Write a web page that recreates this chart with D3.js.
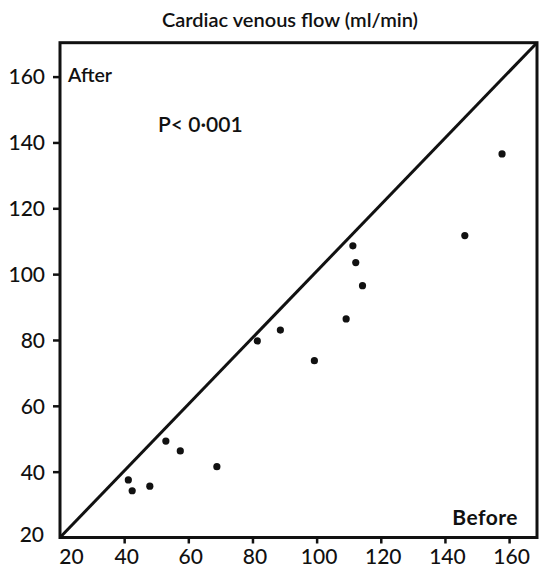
<!DOCTYPE html>
<html>
<head>
<meta charset="utf-8">
<script src="https://cdn.jsdelivr.net/npm/d3@7/dist/d3.min.js"></script>
<style>
  html, body { margin: 0; padding: 0; background: #fff; }
  text { font-family: Lato, "DejaVu Sans", sans-serif; fill: #111; }
</style>
</head>
<body>
<svg id="chart" width="539" height="568"></svg>
<script>
// Data
const before = [41.3, 42.5, 48.0, 53.0, 57.5, 68.9, 81.5, 88.7, 99.3, 109.2, 111.3, 112.2, 114.3, 146.2, 157.8];
const after  = [37.5, 34.2, 35.6, 49.3, 46.3, 41.5, 79.7, 83.0, 73.7, 86.4, 108.6, 103.5, 96.5, 111.7, 136.5];
const xTicks = [20, 40, 60, 80, 100, 120, 140, 160];
const yTicks = [20, 40, 60, 80, 100, 120, 140, 160];
const xDomain = [20, 168.7];
const yDomain = [20, 170.3];
const title = "Cardiac venous flow (ml/min)";
const pText = "P< 0·001";

const svg = d3.select("#chart");
const m = { left: 60, right: 2, top: 42.7, bottom: 30.5 };
const W = 539, H = 568;

const x = d3.scaleLinear().domain(xDomain).range([m.left, W - m.right]);
const y = d3.scaleLinear().domain(yDomain).range([H - m.bottom, m.top]);

// frame
svg.append("rect")
  .attr("x", x(xDomain[0])).attr("y", y(yDomain[1]))
  .attr("width", x(xDomain[1]) - x(xDomain[0]))
  .attr("height", y(yDomain[0]) - y(yDomain[1]))
  .attr("fill", "none").attr("stroke", "#111").attr("stroke-width", 3);

// identity line
svg.append("line")
  .attr("x1", x(xDomain[0])).attr("y1", y(yDomain[0]))
  .attr("x2", x(xDomain[1])).attr("y2", y(yDomain[1]))
  .attr("stroke", "#111").attr("stroke-width", 3);

const tickFont = "Lato, 'DejaVu Sans', sans-serif";

// y axis
const yAxis = svg.append("g")
  .attr("transform", `translate(${x(xDomain[0])},0)`)
  .call(d3.axisLeft(y).tickValues(yTicks).tickSize(7).tickPadding(3));
yAxis.select(".domain").remove();
yAxis.selectAll(".tick line").attr("stroke", "#111").attr("stroke-width", 2.5);
yAxis.selectAll(".tick line").filter(d => d === 20).remove();
yAxis.selectAll(".tick text")
  .style("font-family", tickFont)
  .style("font-size", "21px").style("font-weight", "500").attr("fill", "#111")
  .attr("x", d => d === 20 ? -16 : -15)
  .attr("dy", d => d === 20 ? "0.2em" : "0.35em");

// x axis
const xAxis = svg.append("g")
  .attr("transform", `translate(0,${y(yDomain[0])})`)
  .call(d3.axisBottom(x).tickValues(xTicks).tickSize(6).tickPadding(6));
xAxis.select(".domain").remove();
xAxis.selectAll(".tick line").attr("stroke", "#111").attr("stroke-width", 2.5);
xAxis.selectAll(".tick line").filter(d => d === 20).remove();
xAxis.selectAll(".tick text")
  .style("font-family", tickFont)
  .style("font-size", "21px").style("font-weight", "500").attr("fill", "#111")
  .attr("dx", d => d === 20 ? 11 : 2);

// points
svg.append("g").selectAll("circle")
  .data(before.map((b, i) => [b, after[i]]))
  .join("circle")
  .attr("cx", d => x(d[0])).attr("cy", d => y(d[1]))
  .attr("r", 3.6).attr("fill", "#111");

// texts
svg.append("text").attr("x", 290).attr("y", 27).attr("text-anchor", "middle")
  .style("font-size", "20px").style("font-weight", "600").text(title);
svg.append("text").attr("x", 68).attr("y", 82)
  .style("font-size", "19.5px").style("font-weight", "600").text("After");
svg.append("text").attr("x", 158).attr("y", 132)
  .style("font-size", "21px").style("font-weight", "600").text(pText);
svg.append("text").attr("x", 518).attr("y", 525).attr("text-anchor", "end")
  .style("font-size", "21px").style("font-weight", "700").attr("letter-spacing", "0.5px").text("Before");
</script>
</body>
</html>
